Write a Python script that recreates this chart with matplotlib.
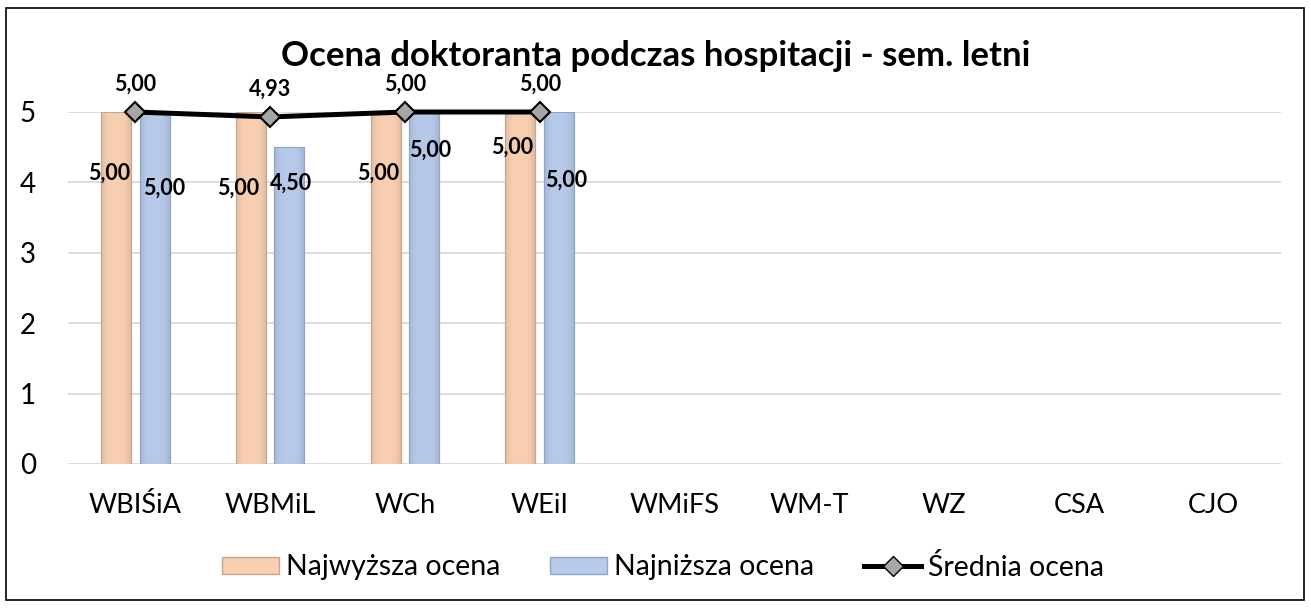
import numpy as np
import matplotlib
matplotlib.use("Agg")
import matplotlib.pyplot as plt
from matplotlib.patches import Rectangle
from matplotlib.lines import Line2D
from matplotlib.patches import Patch
from matplotlib.colors import to_rgb

categories = ["WBIŚiA", "WBMiL", "WCh", "WEiI", "WMiFS", "WM-T", "WZ", "CSA", "CJO"]
najwyzsza = [5.00, 5.00, 5.00, 5.00, np.nan, np.nan, np.nan, np.nan, np.nan]
najnizsza = [5.00, 4.50, 5.00, 5.00, np.nan, np.nan, np.nan, np.nan, np.nan]
srednia = [5.00, 4.93, 5.00, 5.00, np.nan, np.nan, np.nan, np.nan, np.nan]
yticks = [0, 1, 2, 3, 4, 5]
title = "Ocena doktoranta podczas hospitacji - sem. letni"
legend_labels = ["Najwyższa ocena", "Najniższa ocena", "Średnia ocena"]

# label offsets in pixels (styling)
off_hi = [(-7, -61), (-13, -76), (-8, -61), (-8, -35)]
off_lo = [(9, -76), (2, -36), (6, -38), (7, -68)]

plt.rcParams['font.family'] = ['Lato', 'DejaVu Sans']

W, H = 1311, 608
fig = plt.figure(figsize=(W / 100, H / 100), dpi=100)
ax = fig.add_axes([68 / W, 1 - 464 / H, (1281 - 68) / W, (464 - 112) / H])

x = np.arange(len(categories))
bw = 0.222
off = 0.143
c_or = "#F9CFB1"
c_bl = "#B7CAEA"
e_or = "#C8A58D"
e_bl = "#90A4C6"
b1 = ax.bar(x - off, najwyzsza, bw, color=c_or, edgecolor=e_or, linewidth=0.8, zorder=2)
b2 = ax.bar(x + off, najnizsza, bw, color=c_bl, edgecolor=e_bl, linewidth=0.8, zorder=2)

# bevel-like horizontal shading drawn over each bar patch
prof = np.linspace(-1, 1, 60)
shade = 1 - 0.10 * np.abs(prof) ** 3
for bars, col in ((b1, c_or), (b2, c_bl)):
    base = np.array(to_rgb(col))
    img = np.clip(shade[None, :, None] * base[None, None, :], 0, 1)
    for p in bars:
        h = p.get_height()
        if not np.isfinite(h) or h == 0:
            continue
        x0 = p.get_x()
        im = ax.imshow(img, extent=(x0, x0 + p.get_width(), 0, h), aspect="auto",
                       zorder=2.1, interpolation="bilinear")
        im.set_clip_path(p)
        ax.add_patch(Rectangle((x0, 0), p.get_width(), h, fill=False,
                               edgecolor=p.get_edgecolor(), lw=0.8, zorder=2.2))

ax.plot(x, srednia, color="black", lw=3.6, marker="D", markersize=10.5,
        markerfacecolor="#A6A6A6", markeredgecolor="black", markeredgewidth=1.5,
        zorder=4, clip_on=False)

for i in range(4):
    ax.annotate(f"{najwyzsza[i]:.2f}".replace(".", ","), (x[i] - off, najwyzsza[i]),
                xytext=off_hi[i], textcoords="offset pixels", ha="center", va="center",
                fontsize=15.5, fontweight="bold", zorder=5)
    ax.annotate(f"{najnizsza[i]:.2f}".replace(".", ","), (x[i] + off, najnizsza[i]),
                xytext=off_lo[i], textcoords="offset pixels", ha="center", va="center",
                fontsize=15.5, fontweight="bold", zorder=5)
    ax.annotate(f"{srednia[i]:.2f}".replace(".", ","), (x[i], srednia[i]),
                xytext=(0, 28), textcoords="offset pixels", ha="center", va="center",
                fontsize=15.5, fontweight="bold", zorder=5, annotation_clip=False)

ax.set_xlim(-0.5, len(categories) - 0.5)
ax.set_ylim(0, 5)
ax.set_yticks(yticks)
ax.set_xticks(x)
ax.set_xticklabels(categories, fontsize=19.5)
ax.tick_params(axis="x", length=0, pad=21)
ax.tick_params(axis="y", length=0, pad=23, labelsize=20)
ax.grid(axis="y", color="#D9D9D9", lw=1.3, zorder=0)
for s in ax.spines.values():
    s.set_visible(False)
ax.set_axisbelow(True)

fig.text(656 / W, 1 - 56 / H, title, ha="center", va="center", fontsize=25, fontweight="bold")

handles = [Patch(facecolor=c_or, edgecolor=e_or),
           Patch(facecolor=c_bl, edgecolor=e_bl),
           Line2D([0], [0], color="black", lw=3.6, marker="D", markersize=10,
                  markerfacecolor="#A6A6A6", markeredgecolor="black")]
fig.legend(handles, legend_labels, loc="center", bbox_to_anchor=(663 / W, 1 - 567 / H),
           ncol=3, frameon=False, fontsize=20.5, handlelength=2.0, handleheight=0.55,
           handletextpad=0.25, columnspacing=1.75)

fig.add_artist(Rectangle((6 / W, 1 - 600 / H), (1304 - 6) / W, (600 - 8) / H,
                         transform=fig.transFigure, fill=False, edgecolor="black", lw=1.2))

fig.savefig("out.png", dpi=100)
